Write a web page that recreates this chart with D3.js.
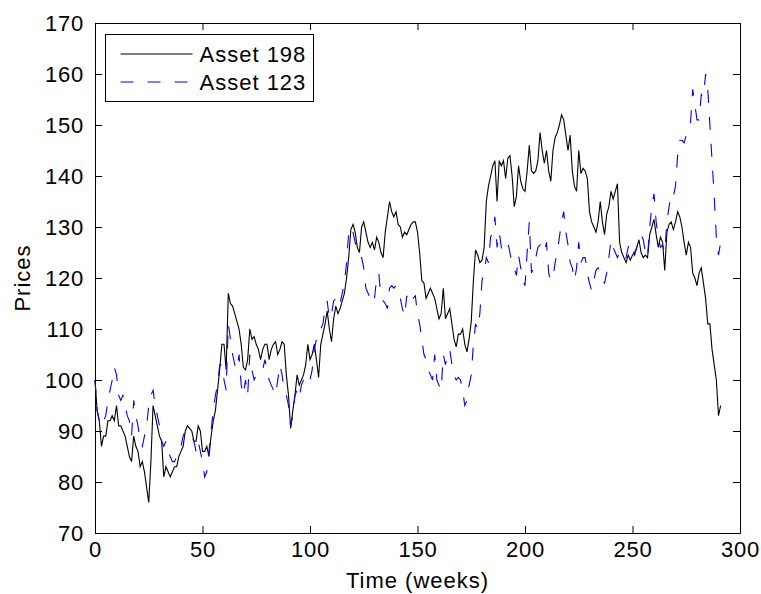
<!DOCTYPE html>
<html>
<head>
<meta charset="utf-8">
<script src="https://cdn.jsdelivr.net/npm/d3@7"></script>
<style>
  body { margin: 0; background: #fff; }
  svg { display: block; font-family: "Liberation Sans", Arial, Helvetica, sans-serif; }
  .tick text { font-size: 22px; letter-spacing: 0.8px; fill: #000; }
  .lbl { font-size: 22px; letter-spacing: 1px; }
  .domain, .tick line { stroke: #000; }
</style>
</head>
<body>
<svg width="761" height="594"></svg>
<script>
// Weekly prices, one value per week starting at week 0
const asset198 = [
  100, 94, 92, 87, 89, 89, 92, 92, 93, 92, 95, 91, 91, 90, 89, 87, 85, 84, 89, 87,
  86, 83, 84, 82, 79, 76, 84, 95, 93, 91, 89, 88, 81, 83, 82, 81, 82, 83, 83, 85,
  86, 87, 90, 91, 90.5, 90, 88, 88, 91, 90, 86, 86, 87, 85, 89, 92, 94, 98, 102, 107,
  107, 102, 117, 115, 114.5, 113, 111.5, 110, 107, 102.5, 102, 104, 110, 108, 108.5, 107, 106, 104, 106, 107,
  107, 104, 106, 107, 107.5, 105, 106, 107.5, 107, 101, 97, 90.5, 94, 97, 101, 99, 100, 101, 103, 107,
  104, 105, 107, 104, 100.5, 107, 109, 111, 113.5, 110, 107.5, 112, 114.5, 113, 114, 115.5, 117, 120, 124, 129.5,
  130.5, 129, 126, 125, 130, 131, 129, 127, 126, 127, 125.5, 128, 127, 125, 124, 129, 132, 135, 133, 132,
  133, 130.5, 130, 128, 129, 128.5, 129.5, 130.5, 131, 131, 129, 125, 119.5, 119, 116, 117, 118, 117, 116, 114,
  112, 113, 118, 112, 113, 114, 111, 108, 106.5, 109, 109, 110, 107, 105.5, 108, 111.5, 119.5, 125.5, 124.5, 123,
  123.5, 126, 135, 138, 140, 142, 143, 135, 143, 142, 143, 139.5, 143.5, 144, 140, 134, 136, 142, 139, 137.5,
  137, 141, 146, 141, 140.5, 141, 143, 148.5, 145, 142.5, 145, 141, 139, 145, 147.5, 148.5, 150, 152, 151, 148,
  145, 148, 141, 138, 137, 145, 140.5, 141.5, 141, 139.5, 133, 131, 130, 129, 131, 135, 131, 128.5, 132.5, 134,
  137, 135.5, 137, 138.5, 127, 125, 124, 123, 124.5, 123.5, 124.5, 125, 126, 127.5, 125, 124, 124.5, 124, 128.5, 130,
  131.5, 128.5, 126, 128, 127, 121.5, 129, 130.5, 131, 129.5, 131, 133, 132, 130, 127, 124.5, 127, 126, 121, 120,
  118.5, 121, 122, 119, 116, 111, 111, 106, 103, 100, 93, 95
];

const asset123 = [
  100, 94, 92, 93, 92, 93, 96, 98, 100, 102.5, 101, 97, 96, 97, 95, 93, 92, 89, 96, 93,
  91, 88, 87, 89, 91, 95, 97, 98, 95, 93, 91, 88, 87, 88, 86, 85, 84, 84, 85, 86,
  87, 89, 90, 89.5, 89, 89, 88, 86, 88, 86, 84, 81, 82, 86, 90, 94, 97, 99, 103, 103,
  100, 98, 111, 108, 105, 103, 102, 105, 99, 97, 100, 97, 105, 102, 100, 101, 102, 102, 102, 104,
  102, 100, 99, 98, 97, 100, 103, 101, 98, 97, 95, 91, 93, 97, 98, 96.5, 99, 100, 101, 101,
  100, 102, 106, 108, 110, 110, 111, 114, 115.5, 112, 113, 115.5, 116, 114.5, 115, 117, 119, 123, 129, 130,
  129, 127, 125, 124.5, 124, 122, 118, 117, 116, 117, 116, 120, 121, 116, 115.5, 115, 114, 118, 118.5, 118,
  118.5, 117, 116, 114, 112.5, 116.5, 115, 115, 116, 116.5, 113, 111, 108, 105, 104, 102, 101, 100, 105, 100,
  99, 98, 105, 103, 105, 106, 103, 101, 100, 100.5, 100, 98, 95, 96, 99, 101, 107, 111, 110, 113,
  119.5, 121, 124, 123, 128, 129, 132, 126, 129, 126, 127, 127.5, 127, 125, 122.5, 122, 120.5, 124.5, 122, 119.5,
  118.5, 125, 131, 121, 122, 124, 126, 126.5, 125.5, 125, 127, 121, 119.5, 120, 123, 125, 128, 131, 133, 129,
  126.5, 123, 122, 119.5, 122, 127, 123, 124, 124, 121, 119, 117.5, 119.5, 121.5, 122, 121, 119.5, 119, 121, 124,
  127.5, 126, 125, 124, 125, 124, 123.5, 124, 126, 127, 125.5, 124.5, 126, 128, 128.5, 127.5, 125, 124, 130, 134,
  136.5, 131, 128, 126, 126.5, 125, 131, 134, 136.5, 136, 138, 144, 147, 147, 146.5, 148, 150, 150.5, 157, 154,
  151, 151, 156, 155.5, 160, 157, 150, 143, 136, 128, 124.5, 127
];

const seriesNames = ["Asset 198", "Asset 123"];
const seriesColors = ["#000000", "#0000ff"];
const seriesDash = [null, "13,14"];

const xTicks = [0, 50, 100, 150, 200, 250, 300];
const yTicks = [70, 80, 90, 100, 110, 120, 130, 140, 150, 160, 170];

let margin = { left: 95, right: 21, top: 23, bottom: 61 };
let svg = d3.select('svg');
let width = +svg.attr('width');
let height = +svg.attr('height');
let w = width - margin.left - margin.right;
let h = height - margin.top - margin.bottom;

let xScale = d3.scaleLinear().domain([0, 300]).range([0, w]);
let yScale = d3.scaleLinear().domain([70, 170]).range([h, 0]);

let g = svg.append('g')
  .attr('transform', `translate(${margin.left},${margin.top})`);

// Axes, ticks point inward on all four sides
g.append('g')
  .attr('transform', `translate(0,${h})`)
  .call(d3.axisBottom(xScale).tickValues(xTicks).tickSize(-7).tickPadding(8).tickSizeOuter(0));

g.append('g')
  .call(d3.axisTop(xScale).tickValues(xTicks).tickSize(-7).tickFormat('').tickSizeOuter(0));

g.append('g')
  .call(d3.axisLeft(yScale).tickValues(yTicks).tickSize(-7).tickPadding(11).tickSizeOuter(0));

g.append('g')
  .attr('transform', `translate(${w},0)`)
  .call(d3.axisRight(yScale).tickValues(yTicks).tickSize(-7).tickFormat('').tickSizeOuter(0));

g.selectAll('.tick text').attr('fill', '#000');

// Lines
let line = d3.line()
  .x((d, i) => xScale(i))
  .y(d => yScale(d));

[asset198, asset123].forEach((s, k) => {
  g.append('path')
    .datum(s)
    .attr('fill', 'none')
    .attr('stroke', seriesColors[k])
    .attr('stroke-width', 1.1)
    .attr('stroke-dasharray', seriesDash[k])
    .attr('d', line);
});

// Axis labels
svg.append('text')
  .text('Time (weeks)')
  .attr('class', 'lbl')
  .attr('x', margin.left + w / 2)
  .attr('y', 588)
  .attr('text-anchor', 'middle');

svg.append('text')
  .text('Prices')
  .attr('class', 'lbl')
  .attr('transform', `translate(30,${margin.top + h / 2}) rotate(-90)`)
  .attr('text-anchor', 'middle');

// Legend
let legend = svg.append('g').attr('transform', 'translate(105.5,34.5)');
legend.append('rect')
  .attr('width', 208)
  .attr('height', 67)
  .attr('fill', '#fff')
  .attr('stroke', '#000');

seriesNames.forEach((name, k) => {
  let yy = 19.5 + k * 28;
  legend.append('line')
    .attr('x1', 15).attr('x2', 87)
    .attr('y1', yy).attr('y2', yy)
    .attr('stroke', seriesColors[k])
    .attr('stroke-width', 1.1)
    .attr('stroke-dasharray', seriesDash[k]);
  legend.append('text')
    .text(name)
    .attr('class', 'lbl')
    .attr('x', 94)
    .attr('y', yy + 8);
});
</script>
</body>
</html>
